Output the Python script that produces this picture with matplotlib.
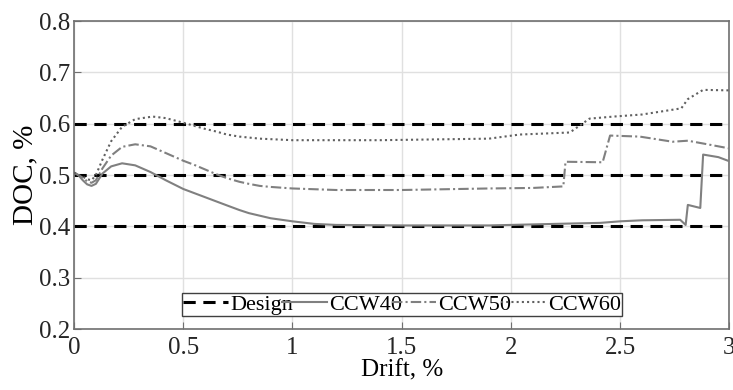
import matplotlib.pyplot as plt
import numpy as np

plt.rcParams['font.family'] = ['Liberation Serif', 'DejaVu Serif']

# design levels
design_levels = [0.4, 0.5, 0.6]

# CCW40 (solid)
x40 = [0.0, 0.02, 0.04, 0.06, 0.08, 0.10, 0.13, 0.17, 0.22, 0.28, 0.35, 0.42, 0.5, 0.55, 0.6, 0.65, 0.7, 0.757, 0.8,
       0.85, 0.9, 0.95, 1.0, 1.1, 1.2, 1.5, 1.9, 2.2, 2.41, 2.5, 2.6, 2.775, 2.80, 2.81, 2.867, 2.88, 2.95, 3.0]
y40 = [0.505, 0.50, 0.49, 0.482, 0.479, 0.483, 0.503, 0.517, 0.523, 0.519, 0.506, 0.49, 0.473, 0.465, 0.457, 0.449,
       0.441, 0.432, 0.426, 0.421, 0.416, 0.413, 0.41, 0.405, 0.403, 0.402, 0.402, 0.405, 0.407, 0.41, 0.412, 0.413,
       0.403, 0.442, 0.436, 0.54, 0.535, 0.527]

# CCW50 (dash-dot)
x50 = [0.0, 0.02, 0.04, 0.06, 0.08, 0.10, 0.13, 0.17, 0.22, 0.28, 0.35, 0.42, 0.5, 0.55, 0.6, 0.65, 0.7, 0.757, 0.8,
       0.85, 0.9, 1.0, 1.2, 1.5, 1.9, 2.1, 2.24, 2.25, 2.42, 2.454, 2.59, 2.74, 2.81, 2.9, 3.0]
y50 = [0.505, 0.50, 0.495, 0.488, 0.485, 0.49, 0.513, 0.538, 0.555, 0.56, 0.556, 0.543, 0.528, 0.52, 0.511, 0.502,
       0.494, 0.487, 0.483, 0.479, 0.477, 0.474, 0.471, 0.471, 0.474, 0.475, 0.478, 0.526, 0.525, 0.577, 0.575, 0.565,
       0.567, 0.56, 0.552]

# CCW60 (dotted)
x60 = [0.0, 0.02, 0.04, 0.06, 0.08, 0.10, 0.13, 0.17, 0.22, 0.28, 0.36, 0.42, 0.5, 0.55, 0.6, 0.65, 0.7, 0.757, 0.85,
       1.0, 1.4, 1.9, 2.04, 2.27, 2.36, 2.47, 2.6, 2.78, 2.81, 2.88, 3.0]
y60 = [0.505, 0.50, 0.497, 0.492, 0.49, 0.5, 0.53, 0.566, 0.594, 0.609, 0.614, 0.611, 0.602, 0.596, 0.59, 0.585, 0.579,
       0.575, 0.571, 0.568, 0.568, 0.571, 0.579, 0.583, 0.61, 0.614, 0.618, 0.63, 0.648, 0.666, 0.665]

fig = plt.figure(figsize=(7.33, 3.9), dpi=100)
ax = fig.add_axes([0.101, 0.156, 0.894, 0.79])

for i, lvl in enumerate(design_levels):
    ax.axhline(lvl, color='black', linestyle=(0, (4, 2.5)), linewidth=2.2,
               label='Design' if i == 0 else None, zorder=2)

curve_color = '#808080'
ax.plot(x40, y40, color=curve_color, linestyle='-', linewidth=1.5, label='CCW40', zorder=3)
ax.plot(x50, y50, color=curve_color, linestyle=(0, (5, 1.5, 1, 1.5)), linewidth=1.5, label='CCW50', zorder=3)
ax.plot(x60, y60, color='#606060', linestyle=(0, (1, 1.5)), linewidth=1.5, label='CCW60', zorder=3)

ax.set_xlim(0, 3)
ax.set_ylim(0.2, 0.8)
ax.set_xticks([0, 0.5, 1, 1.5, 2, 2.5, 3])
ax.set_xticklabels(['0', '0.5', '1', '1.5', '2', '2.5', '3'])
ax.set_yticks(np.round(np.arange(0.2, 0.81, 0.1), 1))
ax.grid(True, color='#e0e0e0', linewidth=1.0)
ax.set_axisbelow(True)

for s in ax.spines.values():
    s.set_color('#707070')
    s.set_linewidth(1.2)
ax.tick_params(direction='in', colors='#707070', labelcolor='#262626', labelsize=18, length=5)
ax.tick_params(axis='x', pad=6)
ax.tick_params(axis='y', pad=3)

ax.set_xlabel('Drift, %', fontsize=18, labelpad=0)
ax.set_ylabel('DOC, %', fontsize=21, labelpad=0)

leg = ax.legend(loc='lower left', bbox_to_anchor=(0.165, 0.042, 0.671, 0.085), mode='expand',
                ncol=4, fontsize=16, frameon=True, fancybox=False, handlelength=2.0,
                handletextpad=0.1, columnspacing=0.1, borderpad=0.05, borderaxespad=0)
leg.get_frame().set_edgecolor('#404040')
leg.get_frame().set_linewidth(1.0)
leg.get_frame().set_alpha(1)

fig.savefig('out.png', dpi=100)
